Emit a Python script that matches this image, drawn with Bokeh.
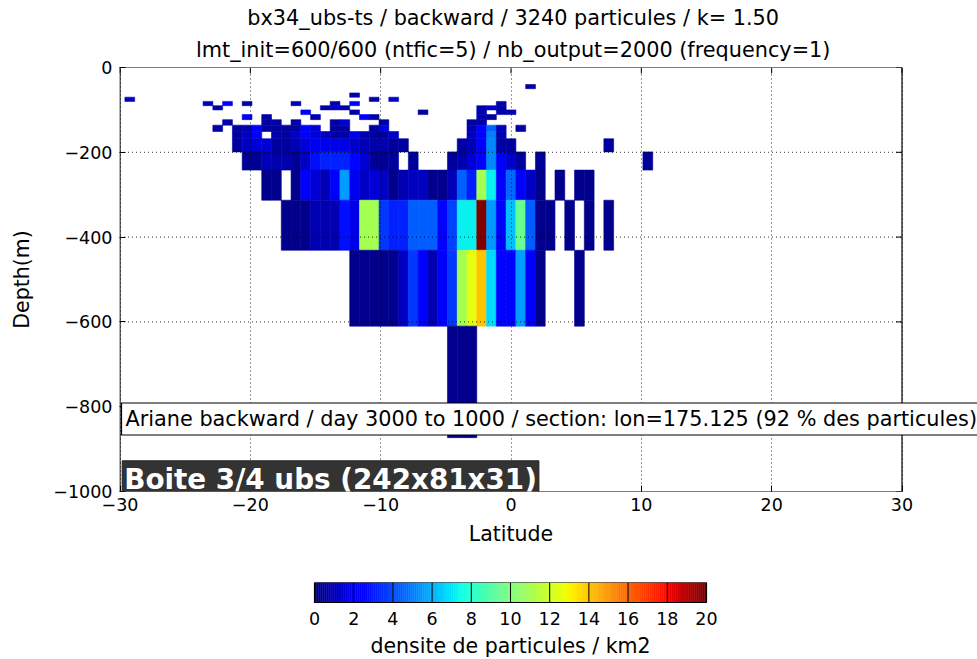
import numpy as np
from bokeh.plotting import figure
from bokeh.models import (ColumnDataSource, LinearColorMapper, Label, FixedTicker, Range1d, Title)
from bokeh.core.properties import value
from bokeh.transform import transform
from bokeh.layouts import column
from bokeh.embed import file_html
from bokeh.resources import INLINE

# ---------------- texts ----------------
title_line1 = "bx34_ubs-ts / backward / 3240 particules / k= 1.50"
title_line2 = "lmt_init=600/600 (ntfic=5) / nb_output=2000 (frequency=1)"
info_text = "Ariane backward / day 3000 to 1000 / section: lon=175.125 (92 % des particules)"
box_text = "Boite 3/4 ubs (242x81x31)"
x_label = "Latitude"
y_label = "Depth(m)"
cbar_label = "densite de particules / km2"

x_ticks = [-30, -20, -10, 0, 10, 20, 30]
y_ticks = [0, -200, -400, -600, -800, -1000]
cbar_ticks = [0, 2, 4, 6, 8, 10, 12, 14, 16, 18, 20]

# ---------------- grid ----------------
lat_cell_width = 0.75
depth_edges = [40, 50, 60, 70, 80, 90, 100, 111, 123, 136, 151, 168, 199, 242, 313, 431, 610, 873]

# ---------------- cells (level index, latitude centre, density) ----------------
cell_level = [
    0,
    2,
    3, 3, 3,
    4, 4, 4, 4, 4, 4, 4,
    5, 5, 5, 5, 5, 5, 5,
    6, 6, 6, 6, 6, 6,
    7, 7, 7, 7, 7, 7, 7,
    8, 8, 8, 8, 8, 8, 8, 8, 8,
    9, 9, 9, 9, 9, 9, 9, 9, 9, 9, 9, 9, 9, 9, 9, 9, 9, 9, 9,
    10, 10, 10, 10, 10, 10, 10, 10, 10, 10, 10, 10, 10, 10, 10, 10, 10, 10, 10, 10,
    11, 11, 11, 11, 11, 11, 11, 11, 11, 11, 11, 11, 11, 11, 11, 11, 11, 11, 11, 11, 11, 11, 11, 11, 11,
    12, 12, 12, 12, 12, 12, 12, 12, 12, 12, 12, 12, 12, 12, 12, 12, 12, 12, 12, 12, 12, 12, 12, 12, 12, 12, 12,
    13, 13, 13, 13, 13, 13, 13, 13, 13, 13, 13, 13, 13, 13, 13, 13, 13, 13, 13, 13, 13, 13, 13, 13, 13, 13, 13, 13, 13, 13, 13,
    14, 14, 14, 14, 14, 14, 14, 14, 14, 14, 14, 14, 14, 14, 14, 14, 14, 14, 14, 14, 14, 14, 14, 14, 14, 14, 14, 14, 14, 14, 14,
    15, 15, 15, 15, 15, 15, 15, 15, 15, 15, 15, 15, 15, 15, 15, 15, 15, 15, 15, 15, 15,
    16, 16, 16,
]
cell_lat = [
    1.5,
    -12.0,
    -29.25, -10.5, -9.0,
    -23.25, -21.75, -20.25, -16.5, -13.5, -12.0, -0.75,
    -22.5, -14.25, -13.5, -12.75, -2.25, -1.5, -0.75,
    -15.75, -12.0, -6.75, -2.25, -0.75, 0.0,
    -20.25, -18.75, -15.0, -11.25, -10.5, -2.25, -1.5,
    -21.75, -18.75, -18.0, -16.5, -13.5, -12.75, -9.75, -3.0, -2.25,
    -22.5, -21.0, -20.25, -19.5, -18.75, -18.0, -17.25, -16.5, -15.75, -15.0, -13.5, -12.75, -10.5, -9.75,
    -3.0, -2.25, -1.5, -0.75, 0.75,
    -21.0, -20.25, -19.5, -18.0, -17.25, -16.5, -15.75, -15.0, -14.25, -13.5, -12.75, -12.0, -11.25, -10.5,
    -9.75, -9.0, -3.0, -2.25, -1.5, -0.75,
    -21.0, -20.25, -19.5, -18.75, -18.0, -17.25, -16.5, -15.75, -15.0, -14.25, -13.5, -12.75, -12.0, -11.25,
    -10.5, -9.75, -9.0, -8.25, -3.75, -3.0, -2.25, -1.5, -0.75, 0.0, 7.5,
    -20.25, -19.5, -18.75, -18.0, -17.25, -16.5, -15.75, -15.0, -14.25, -13.5, -12.75, -12.0, -11.25, -10.5,
    -9.75, -9.0, -7.5, -4.5, -3.75, -3.0, -2.25, -1.5, -0.75, 0.0, 0.75, 2.25, 10.5,
    -18.75, -18.0, -16.5, -15.75, -15.0, -14.25, -13.5, -12.75, -12.0, -11.25, -10.5, -9.75, -9.0, -8.25,
    -7.5, -6.75, -6.0, -5.25, -4.5, -3.75, -3.0, -2.25, -1.5, -0.75, 0.0, 0.75, 1.5, 2.25, 3.75, 5.25, 6.0,
    -17.25, -16.5, -15.75, -15.0, -14.25, -13.5, -12.75, -12.0, -11.25, -10.5, -9.75, -9.0, -8.25, -7.5,
    -6.75, -6.0, -5.25, -4.5, -3.75, -3.0, -2.25, -1.5, -0.75, 0.0, 0.75, 1.5, 2.25, 3.0, 4.5, 6.0, 7.5,
    -12.0, -11.25, -10.5, -9.75, -9.0, -8.25, -7.5, -6.75, -6.0, -5.25, -4.5, -3.75, -3.0, -2.25, -1.5,
    -0.75, 0.0, 0.75, 1.5, 2.25, 5.25,
    -4.5, -3.75, -3.0,
]
cell_density = [
    0.6,
    0.7,
    1.1, 0.7, 1.3,
    1.0, 2.3, 0.8, 0.8, 0.7, 2.2, 0.8,
    0.8, 0.7, 1.5, 0.7, 0.9, 1.4, 0.7,
    2.0, 0.6, 0.6, 1.0, 0.8, 0.8,
    2.5, 0.7, 0.8, 2.3, 0.7, 0.8, 0.6,
    0.8, 0.7, 0.7, 0.7, 0.6, 1.6, 0.6, 0.7, 0.7,
    0.7, 0.7, 0.8, 2.3, 0.6, 0.6, 0.6, 0.6, 2.2, 1.5, 0.6, 0.6, 0.6, 1.8, 0.8, 2.3, 4.5, 1.0, 0.7,
    0.6, 1.2, 2.3, 0.8, 0.6, 1.3, 2.4, 1.6, 1.2, 0.7, 0.7, 1.8, 1.0, 0.6, 0.6, 1.3, 1.2, 2.4, 5.0, 0.8,
    0.6, 1.2, 1.5, 1.5, 0.6, 0.6, 1.0, 1.6, 2.0, 2.0, 1.8, 1.8, 1.3, 1.0, 0.8, 1.0, 0.6, 0.6, 0.7, 1.0,
    2.5, 5.2, 0.7, 0.6, 0.6,
    0.4, 0.4, 1.0, 0.8, 0.8, 0.4, 1.2, 2.8, 3.2, 3.2, 3.2, 2.6, 1.5, 0.4, 0.4, 0.6, 0.5, 0.5, 0.8, 1.5,
    2.5, 5.2, 2.4, 1.4, 0.6, 0.5, 0.5,
    0.3, 0.3, 0.3, 2.3, 1.5, 1.0, 2.2, 5.6, 2.0, 1.2, 1.5, 1.3, 0.3, 0.9, 1.1, 1.1, 0.3, 0.3, 1.0, 4.4,
    3.1, 11.0, 7.2, 2.4, 4.6, 2.4, 1.2, 0.3, 0.3, 0.3, 0.3,
    0.3, 0.3, 0.3, 0.9, 0.9, 0.9, 2.8, 1.8, 11.0, 11.0, 3.6, 3.2, 3.2, 4.3, 4.3, 4.3, 2.3, 3.8, 7.2, 7.2,
    20.0, 5.5, 2.5, 6.3, 9.5, 4.3, 0.3, 0.3, 0.3, 0.3, 0.3,
    0.3, 0.3, 0.3, 0.3, 0.3, 1.2, 3.6, 2.4, 0.9, 2.2, 3.6, 11.0, 12.6, 14.0, 6.8, 2.6, 2.3, 5.6, 2.5, 0.3,
    0.3,
    0.3, 0.3, 0.3,
]

FONT = "DejaVu Sans"

# ---------------- layout (pixels) ----------------
W = 977
MAIN_H = 555
CB_H = 659 - MAIN_H
FRAME_LEFT = 119
FRAME_TOP = 67
FRAME_H = 424
FRAME_W = W - FRAME_LEFT                 # frame runs to the right edge so the info box can overflow
PX_PER_DEG = 782.0 / 60.0                # visible axes box is 782 px wide
PX_PER_M = FRAME_H / 1000.0
x0 = x_ticks[0] - 0.5 / PX_PER_DEG
x1 = x0 + FRAME_W / PX_PER_DEG
BOX_CENTER = 510.5                        # page x of the axes-box centre
CB_BAR_LEFT = 314
CB_PX_PER_UNIT = 392.0 / 20.0
CB_TOP = 582 - MAIN_H
CB_PX_PER_Y = 20.0                       # bar is 20 px high
TICK_LEN = 6
EM_TITLE1 = 25.59                        # DejaVu Sans text widths in em
EM_TITLE2 = 30.53
EM_XLABEL = 4.12


def jet_palette(n=256):
    t = np.linspace(0, 1, n)
    r = np.interp(t, [0, 0.35, 0.66, 0.89, 1], [0, 0, 1, 1, 0.5])
    g = np.interp(t, [0, 0.125, 0.375, 0.64, 0.91, 1], [0, 0, 1, 1, 0, 0])
    b = np.interp(t, [0, 0.11, 0.34, 0.65, 1], [0.5, 1, 1, 0, 0])
    return ["#%02x%02x%02x" % (int(round(a * 255)), int(round(c * 255)), int(round(d * 255)))
            for a, c, d in zip(r, g, b)]


mapper = LinearColorMapper(palette=jet_palette(), low=cbar_ticks[0], high=cbar_ticks[-1])


def minus(v):
    return str(v).replace("-", "\u2212")


def left_offset(em, size, center=BOX_CENTER):
    return center - em * size / 2.0 - FRAME_LEFT


# ---------------- main figure ----------------
p = figure(width=W, height=MAIN_H, x_range=Range1d(x0, x1), y_range=Range1d(y_ticks[-1], y_ticks[0]),
           output_backend="svg", toolbar_location=None, title=None,
           min_border_left=FRAME_LEFT, min_border_right=0, min_border_top=FRAME_TOP,
           min_border_bottom=MAIN_H - FRAME_TOP - FRAME_H)
p.outline_line_color = None
p.background_fill_color = "white"
p.border_fill_color = "white"

half = lat_cell_width / 2.0
src = ColumnDataSource(dict(
    left=[la - half for la in cell_lat],
    right=[la + half for la in cell_lat],
    top=[-depth_edges[l] for l in cell_level],
    bottom=[-depth_edges[l + 1] for l in cell_level],
    density=cell_density,
))
p.quad(left="left", right="right", top="top", bottom="bottom", source=src,
       fill_color=transform("density", mapper), line_color=transform("density", mapper),
       line_width=0.6)

# dotted grid
p.xgrid.ticker = FixedTicker(ticks=x_ticks)
p.xgrid.grid_line_color = "black"
p.xgrid.grid_line_alpha = 0.8
p.xgrid.grid_line_dash = "1 3"
p.xgrid.level = "guide"
p.ygrid.visible = False
inner_y = y_ticks[1:-1]
p.segment(x0=[x_ticks[0]] * len(inner_y), y0=inner_y, x1=[x_ticks[-1]] * len(inner_y), y1=inner_y,
          line_color="black", line_alpha=0.8, line_dash="1 3", line_width=1)

# axes box
p.quad(left=[x_ticks[0]], right=[x_ticks[-1]], top=[y_ticks[0]], bottom=[y_ticks[-1]],
       fill_color=None, line_color="black", line_width=1.2)
# inward ticks on the right and top sides
p.segment(x0=[x_ticks[-1]] * len(y_ticks), y0=y_ticks,
          x1=[x_ticks[-1] - TICK_LEN / PX_PER_DEG] * len(y_ticks), y1=y_ticks,
          line_color="black", line_width=1)
p.segment(x0=x_ticks, y0=[y_ticks[0]] * len(x_ticks),
          x1=x_ticks, y1=[y_ticks[0] - TICK_LEN / PX_PER_M] * len(x_ticks),
          line_color="black", line_width=1)

p.xaxis.ticker = FixedTicker(ticks=x_ticks)
p.yaxis.ticker = FixedTicker(ticks=y_ticks)
p.xaxis.major_label_overrides = {t: minus(t) for t in x_ticks}
p.yaxis.major_label_overrides = {t: minus(t) for t in y_ticks}
for ax in (p.xaxis[0], p.yaxis[0]):
    ax.major_tick_in = TICK_LEN
    ax.major_tick_out = 0
    ax.major_tick_line_color = "black"
    ax.minor_tick_line_color = None
    ax.axis_line_color = None
    ax.major_label_text_font = FONT
    ax.major_label_text_font_size = "17.5px"
    ax.major_label_text_color = "black"
    ax.axis_label_text_font = FONT
    ax.axis_label_text_font_size = "20.5px"
    ax.axis_label_text_font_style = "normal"
    ax.axis_label_text_color = "black"
p.yaxis.axis_label = y_label
p.xaxis.major_label_standoff = 6
p.yaxis.major_label_standoff = 7
p.yaxis.axis_label_standoff = 16

p.add_layout(Title(text=x_label, align="left", offset=left_offset(EM_XLABEL, 20.5), text_font=FONT,
                   text_font_size="20.5px", text_font_style="normal", text_color="black",
                   standoff=13), "below")
p.add_layout(Title(text=title_line2, align="left", offset=left_offset(EM_TITLE2, 20.8, 513),
                   text_font=FONT, text_font_size="20.8px", text_font_style="normal",
                   text_color="black", standoff=12), "above")
p.add_layout(Title(text=title_line1, align="left", offset=left_offset(EM_TITLE1, 20.8, 513),
                   text_font=FONT, text_font_size="20.8px", text_font_style="normal",
                   text_color="black", standoff=0), "above")

p.add_layout(Label(x=x0 + 2 / PX_PER_DEG, y=-351.5 / PX_PER_M, text=info_text,
                   text_align="left", text_baseline="middle",
                   text_font=FONT, text_font_size="20.8px", text_color="black",
                   background_fill_color="white", background_fill_alpha=1.0,
                   border_line_color="black", border_line_width=1.2, padding=4))
p.add_layout(Label(x=x0 + 2.7 / PX_PER_DEG, y=-411.8 / PX_PER_M, text=box_text,
                   text_align="left", text_baseline="middle",
                   text_font=FONT, text_font_size="27.8px", text_font_style="bold",
                   text_color="white", background_fill_color="#333333", background_fill_alpha=1.0,
                   border_line_color="#222222", border_line_width=1, padding=2))

# ---------------- colour bar (frame aligned with the main one) ----------------
cb_frame_h = CB_H - CB_TOP
cb_x0 = cbar_ticks[0] - (CB_BAR_LEFT - FRAME_LEFT) / CB_PX_PER_UNIT
cb_x1 = cb_x0 + FRAME_W / CB_PX_PER_UNIT
cb_y1 = 1.0
cb_y0 = cb_y1 - cb_frame_h / CB_PX_PER_Y
cb = figure(width=W, height=CB_H, x_range=Range1d(cb_x0, cb_x1), y_range=Range1d(cb_y0, cb_y1),
            output_backend="svg", toolbar_location=None, title=None,
            min_border_left=FRAME_LEFT, min_border_right=0, min_border_top=CB_TOP, min_border_bottom=0)
cb.outline_line_color = None
cb.grid.visible = False
cb.xaxis.visible = False
cb.yaxis.visible = False
g_edges = np.linspace(cbar_ticks[0], cbar_ticks[-1], 201)
gsrc = ColumnDataSource(dict(left=g_edges[:-1], right=g_edges[1:],
                             v=(g_edges[:-1] + g_edges[1:]) / 2.0))
cb.quad(left="left", right="right", bottom=0, top=1, source=gsrc,
        fill_color=transform("v", mapper), line_color=transform("v", mapper), line_width=0.5)
inner = cbar_ticks[1:-1]
cb.segment(x0=inner, y0=[0] * len(inner), x1=inner, y1=[1] * len(inner),
           line_color="black", line_width=1)
cb.quad(left=[cbar_ticks[0]], right=[cbar_ticks[-1]], bottom=[0], top=[1],
        fill_color=None, line_color="black", line_width=1.2)
tick_y = cb_y1 - (618 - 582) / CB_PX_PER_Y
label_y = cb_y1 - (645 - 582) / CB_PX_PER_Y
cb.text(x=cbar_ticks, y=[tick_y] * len(cbar_ticks), text=[str(t) for t in cbar_ticks],
        text_align="center", text_baseline="middle", text_font=value(FONT),
        text_font_size=value("17.5px"), text_color="black")
cb.add_layout(Label(x=(cbar_ticks[0] + cbar_ticks[-1]) / 2.0, y=label_y, text=cbar_label,
                    text_align="center", text_baseline="middle", text_font=FONT,
                    text_font_size="20.5px", text_color="black"))

layout = column(p, cb)
open("out.html", "w").write(file_html(layout, INLINE))
